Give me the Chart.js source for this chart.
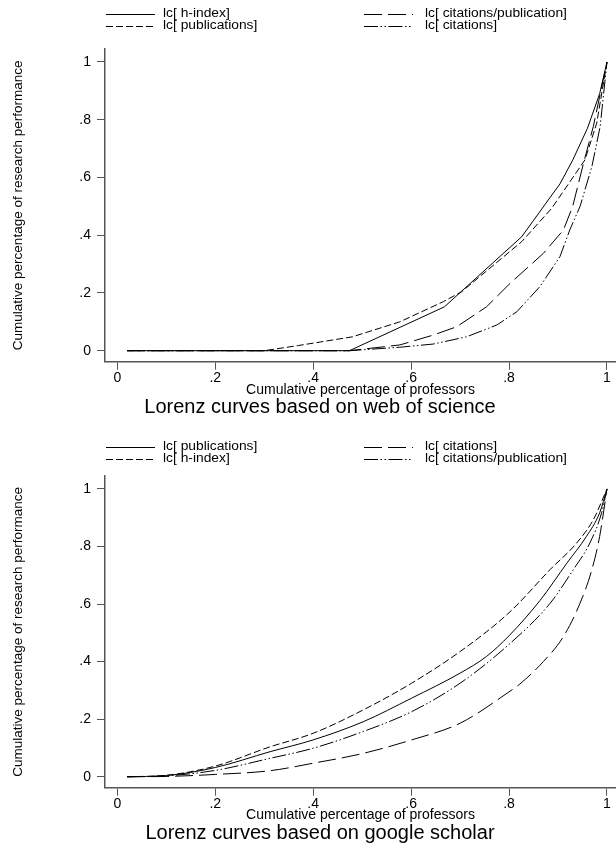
<!DOCTYPE html>
<html>
<head>
<meta charset="utf-8">
<script src="https://cdn.jsdelivr.net/npm/chart.js@4.4.1/dist/chart.umd.min.js"></script>
<style>
  html, body { margin: 0; padding: 0; background: #fff; }
  canvas { position: absolute; left: 0; display: block; }
  #wos { top: 0; }
  #gs { top: 426px; }
</style>
</head>
<body>
<canvas id="wos" width="616" height="426"></canvas>
<canvas id="gs" width="616" height="417"></canvas>
<script>
const FONT = '"Liberation Sans", Arial, Helvetica, sans-serif';

const xTicks = [0, 0.2, 0.4, 0.6, 0.8, 1];
const xTickLabels = ["0", ".2", ".4", ".6", ".8", "1"];
const yTicks = [0, 0.2, 0.4, 0.6, 0.8, 1];
const yTickLabels = ["0", ".2", ".4", ".6", ".8", "1"];

// web of science
const wosX_h = [0.02, 0.474, 0.668, 0.826, 0.904, 0.93, 0.96, 0.985, 1];
const wosY_h = [0, 0, 0.152, 0.395, 0.578, 0.66, 0.77, 0.89, 1];
const wosX_pub = [0.02, 0.3, 0.37, 0.48, 0.577, 0.666, 0.703, 0.826, 0.887, 0.955, 0.979, 1];
const wosY_pub = [0, 0, 0.018, 0.048, 0.1, 0.17, 0.204, 0.378, 0.493, 0.661, 0.788, 1];
const wosX_cpp = [0.02, 0.474, 0.577, 0.645, 0.693, 0.754, 0.802, 0.87, 0.911, 0.93, 0.952, 0.972, 1];
const wosY_cpp = [0, 0, 0.02, 0.054, 0.083, 0.152, 0.233, 0.337, 0.418, 0.5, 0.649, 0.776, 1];
const wosX_cit = [0.02, 0.474, 0.577, 0.645, 0.713, 0.775, 0.816, 0.863, 0.904, 0.924, 0.945, 0.969, 0.986, 1];
const wosY_cit = [0, 0, 0.012, 0.023, 0.048, 0.089, 0.135, 0.222, 0.326, 0.418, 0.5, 0.637, 0.776, 1];

// google scholar
const gsX_pub = [0.02, 0.1, 0.2, 0.312, 0.4, 0.502, 0.601, 0.7, 0.754, 0.8, 0.863, 0.918, 0.958, 0.985, 1];
const gsY_pub = [0, 0.004, 0.032, 0.087, 0.128, 0.191, 0.273, 0.36, 0.418, 0.49, 0.612, 0.742, 0.835, 0.917, 1];
const gsX_h = [0.02, 0.1, 0.2, 0.312, 0.4, 0.502, 0.601, 0.7, 0.8, 0.884, 0.938, 0.972, 1];
const gsY_h = [0, 0.005, 0.037, 0.104, 0.151, 0.232, 0.325, 0.435, 0.57, 0.72, 0.812, 0.893, 1];
const gsX_cit = [0.02, 0.1, 0.2, 0.312, 0.4, 0.502, 0.601, 0.7, 0.8, 0.822, 0.87, 0.911, 0.945, 0.969, 0.985, 1];
const gsY_cit = [0, 0.001, 0.008, 0.021, 0.047, 0.081, 0.128, 0.186, 0.295, 0.322, 0.4, 0.487, 0.603, 0.719, 0.835, 1];
const gsX_cpp = [0.02, 0.1, 0.2, 0.312, 0.4, 0.502, 0.601, 0.7, 0.8, 0.884, 0.931, 0.965, 0.989, 1];
const gsY_cpp = [0, 0.003, 0.022, 0.064, 0.099, 0.157, 0.226, 0.325, 0.46, 0.603, 0.719, 0.812, 0.917, 1];

const DASHES = [[], [7, 3], [18, 6], [14, 2.5, 1.5, 2.5, 1.5, 2.5]];

const pts = (xs, ys) => xs.map((x, i) => ({ x, y: ys[i] }));

// legend (2 columns, column-first) + main title, drawn after the chart
const legendAndTitle = {
  id: "legendAndTitle",
  afterDraw(chart, args, o) {
    const ctx = chart.ctx;
    ctx.save();
    ctx.textBaseline = "middle";
    ctx.textAlign = "left";
    chart.data.datasets.forEach((ds, i) => {
      const col = o.cols[Math.floor(i / 2)];
      const y = o.rows[i % 2];
      ctx.strokeStyle = ds.borderColor;
      ctx.lineWidth = ds.borderWidth;
      ctx.setLineDash(ds.borderDash);
      ctx.beginPath();
      ctx.moveTo(col.x0, y + 0.5);
      ctx.lineTo(col.x1, y + 0.5);
      ctx.stroke();
      ctx.setLineDash([]);
      // stata legend text is a bit wide for its height
      ctx.save();
      ctx.translate(col.tx, y);
      ctx.scale(1.15, 1);
      ctx.font = `12px ${FONT}`;
      ctx.fillStyle = "#000";
      ctx.fillText(ds.label, 0, 0);
      ctx.restore();
    });
    ctx.font = `20px ${FONT}`;
    ctx.textAlign = "center";
    ctx.fillStyle = "#000";
    ctx.fillText(o.title, o.titleX, o.titleY);
    ctx.restore();
  },
};

function makeChart(id, series, cfg) {
  const datasets = series.map((s, i) => ({
    label: s.label,
    data: pts(s.x, s.y),
    borderColor: "#000",
    borderWidth: 1,
    borderDash: DASHES[i],
    pointRadius: 0,
    cubicInterpolationMode: cfg.smooth ? "monotone" : "default",
    tension: 0,
    fill: false,
  }));
  return new Chart(document.getElementById(id), {
    type: "line",
    data: { datasets },
    plugins: [legendAndTitle],
    options: {
      responsive: false,
      animation: false,
      layout: { padding: { top: cfg.top, left: 0, right: 0, bottom: 0 } },
      scales: {
        x: {
          type: "linear",
          min: -0.0251,
          max: 1.0184,
          afterFit: (s) => { s.height = cfg.xAxisH; },
          afterBuildTicks: (s) => { s.ticks = xTicks.map((v) => ({ value: v })); },
          ticks: {
            callback: (v, i) => xTickLabels[i],
            color: "#000",
            font: { family: FONT, size: 14, lineHeight: 1 },
            padding: 1,
            maxRotation: 0,
            autoSkip: false,
          },
          grid: { drawOnChartArea: false, drawTicks: true, tickLength: 8, color: "#555" },
          border: { display: true, color: "#555", width: 1.5 },
          title: {
            display: true,
            text: "Cumulative percentage of professors",
            color: "#000",
            font: { family: FONT, size: 14, lineHeight: 1 },
            padding: { top: 0, bottom: cfg.xTitlePad },
          },
        },
        y: {
          type: "linear",
          min: -0.0381,
          max: 1.045,
          afterFit: (s) => { s.width = 105; },
          afterBuildTicks: (s) => { s.ticks = yTicks.map((v) => ({ value: v })); },
          ticks: {
            callback: (v, i) => yTickLabels[i],
            color: "#000",
            font: { family: FONT, size: 14, lineHeight: 1 },
            padding: 6,
            autoSkip: false,
          },
          grid: { drawOnChartArea: false, drawTicks: true, tickLength: 8, color: "#555" },
          border: { display: true, color: "#555", width: 1.5 },
          title: {
            display: true,
            text: "Cumulative percentage of research performance",
            color: "#000",
            font: { family: FONT, size: 13.5, lineHeight: 1 },
            padding: { top: 12, bottom: 0 },
          },
        },
      },
      plugins: {
        legend: { display: false },
        tooltip: { enabled: false },
        legendAndTitle: {
          cols: [{ x0: 106, x1: 155, tx: 163 }, { x0: 364, x1: 413, tx: 425 }],
          rows: cfg.legendRows,
          title: cfg.title,
          titleX: 320,
          titleY: cfg.titleY,
        },
      },
    },
  });
}

makeChart("wos", [
  { label: "lc[ h-index]", x: wosX_h, y: wosY_h },
  { label: "lc[ publications]", x: wosX_pub, y: wosY_pub },
  { label: "lc[ citations/publication]", x: wosX_cpp, y: wosY_cpp },
  { label: "lc[ citations]", x: wosX_cit, y: wosY_cit },
], { top: 49, xAxisH: 64.3, xTitlePad: 29, legendRows: [14, 26], smooth: false,
     title: "Lorenz curves based on web of science", titleY: 407 });

makeChart("gs", [
  { label: "lc[ publications]", x: gsX_pub, y: gsY_pub },
  { label: "lc[ h-index]", x: gsX_h, y: gsY_h },
  { label: "lc[ citations]", x: gsX_cit, y: gsY_cit },
  { label: "lc[ citations/publication]", x: gsX_cpp, y: gsY_cpp },
], { top: 50, xAxisH: 55.3, xTitlePad: 21, legendRows: [21, 33], smooth: true,
     title: "Lorenz curves based on google scholar", titleY: 407 });
</script>
</body>
</html>
